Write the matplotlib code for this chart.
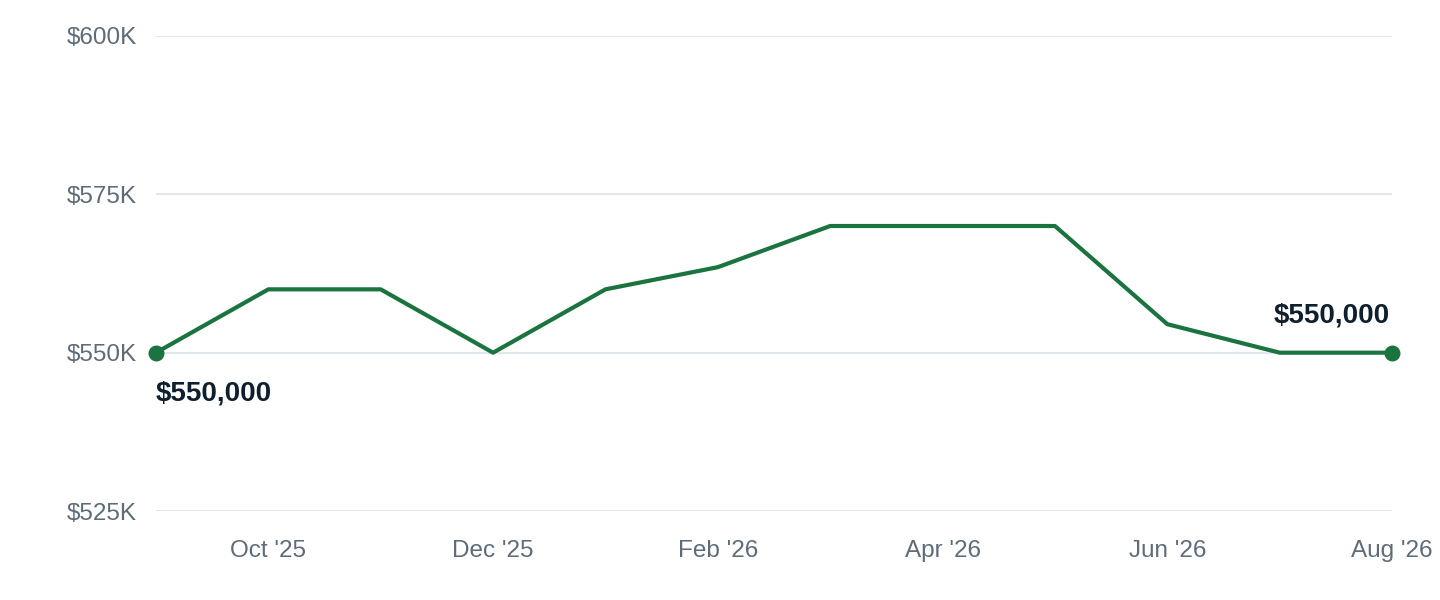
import matplotlib
matplotlib.use("Agg")
import matplotlib.pyplot as plt
from matplotlib.ticker import FuncFormatter

# monthly values Sep '25 .. Aug '26
months = ["Sep '25", "Oct '25", "Nov '25", "Dec '25", "Jan '26", "Feb '26",
          "Mar '26", "Apr '26", "May '26", "Jun '26", "Jul '26", "Aug '26"]
values = [550000, 560000, 560000, 550000, 560000, 563500,
          570000, 570000, 570000, 554500, 550000, 550000]
y_ticks = [525000, 550000, 575000, 600000]

line_color = '#1b7340'
tick_color = '#5f6b78'
label_color = '#0f1f2d'
grid_color = '#e2e6ed'

plt.rcParams['font.family'] = ['Liberation Sans', 'DejaVu Sans']

fig = plt.figure(figsize=(14.4, 6), dpi=100)
ax = fig.add_axes([0.1083, 0.1483, 0.8584, 0.7917])

x = list(range(len(months)))
ax.plot(x, values, color=line_color, lw=3, solid_capstyle='round', zorder=3)
ax.scatter([x[0], x[-1]], [values[0], values[-1]], s=110, color=line_color,
           zorder=4, clip_on=False)

ax.annotate(f"${values[0]:,.0f}", (x[0], values[0]), xytext=(0, -41),
            textcoords='offset pixels', ha='left', va='center',
            fontsize=20, fontweight='bold', color=label_color)
ax.annotate(f"${values[-1]:,.0f}", (x[-1], values[-1]), xytext=(-2, 37),
            textcoords='offset pixels', ha='right', va='center',
            fontsize=20, fontweight='bold', color=label_color)

ax.set_xlim(0, len(months) - 1)
ax.set_ylim(y_ticks[0], y_ticks[-1])
ax.set_yticks(y_ticks)
ax.yaxis.set_major_formatter(FuncFormatter(lambda v, p: f"${v/1000:.0f}K"))
ax.set_xticks(x[1::2])
ax.set_xticklabels(months[1::2])

ax.grid(axis='y', color=grid_color, lw=1.5)
ax.set_axisbelow(True)
for s in ax.spines.values():
    s.set_visible(False)
ax.tick_params(axis='both', length=0, labelsize=17.5, colors=tick_color)
ax.tick_params(axis='y', pad=13.5)
ax.tick_params(axis='x', pad=21)

fig.savefig("out.png", dpi=100)
